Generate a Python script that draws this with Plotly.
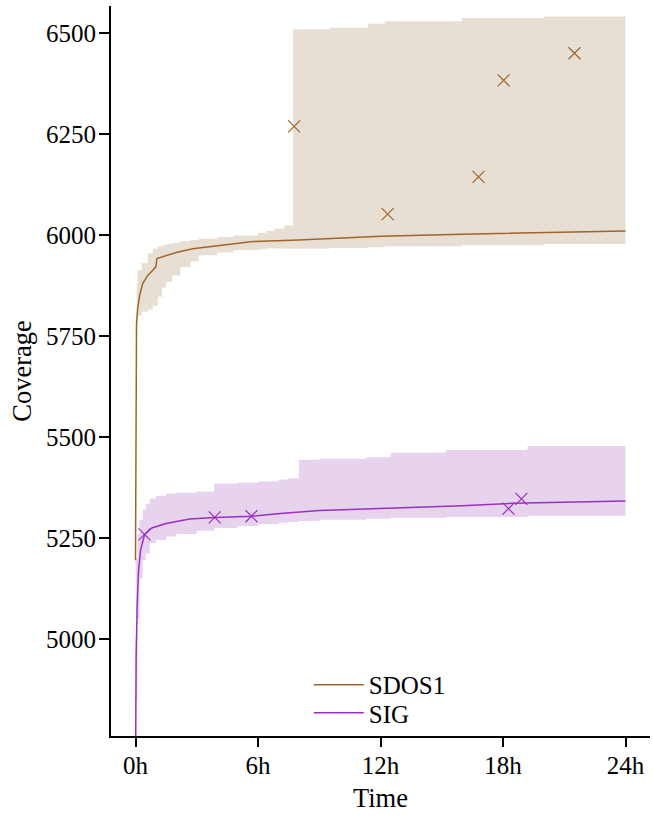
import plotly.graph_objects as go

# ---- data (hours, coverage) ----
sdos_t = [0, 0.02, 0.05, 0.1, 0.2, 0.35, 0.6, 0.85, 1.0, 1.05, 1.5, 2.0, 2.8, 4.0, 5.75, 8, 9.5, 12, 16, 20, 24]
sdos_v = [5195, 5700, 5780, 5815, 5850, 5880, 5900, 5913, 5922, 5942, 5950, 5957, 5966, 5974, 5984, 5988, 5991, 5997, 6002, 6006, 6010]

sdos_band_t = [0, 0.02, 0.06, 0.1, 0.3, 0.6, 0.85, 1.1, 1.3, 1.5, 1.8, 2.2, 2.7, 3.1, 4.0, 4.8, 6.0, 6.4, 6.8, 7.3, 7.72, 9.5, 11.4, 12.2, 16, 20, 24]
sdos_low = [5160, 5700, 5780, 5800, 5810, 5815, 5825, 5847, 5870, 5884, 5900, 5921, 5935, 5950, 5957, 5963, 5965, 5967, 5967, 5966, 5966, 5968, 5970, 5972, 5975, 5978, 5980]
sdos_up = [5200, 5800, 5880, 5913, 5930, 5955, 5966, 5972, 5975, 5978, 5981, 5985, 5988, 5991, 5995, 5999, 6006, 6010, 6016, 6024, 6509, 6513, 6523, 6529, 6537, 6541, 6543]

sdos_mark_t = [7.77, 12.35, 16.8, 18.03, 21.5]
sdos_mark_v = [6269, 6052, 6144, 6383, 6450]

sig_t = [0, 0.03, 0.08, 0.15, 0.25, 0.44, 0.8, 1.5, 2.65, 3.9, 5.7, 7.1, 9, 11, 13.9, 16, 18.5, 21, 24]
sig_v = [4650, 4950, 5080, 5170, 5220, 5258, 5275, 5286, 5297, 5301, 5304, 5311, 5318, 5321, 5325, 5330, 5336, 5339, 5342]

sig_band_t = [0, 0.03, 0.1, 0.2, 0.35, 0.5, 0.7, 1.0, 1.5, 2.0, 3.0, 3.85, 5.0, 6.0, 7.0, 7.5, 8.0, 9.0, 11.3, 12.5, 15.2, 19.2, 24]
sig_low = [4650, 4850, 5050, 5150, 5195, 5212, 5238, 5245, 5254, 5260, 5268, 5275, 5280, 5284, 5288, 5290, 5292, 5295, 5298, 5300, 5302, 5305, 5307]
sig_up = [5000, 5200, 5260, 5295, 5320, 5335, 5348, 5355, 5360, 5362, 5365, 5385, 5387, 5390, 5395, 5398, 5444, 5446, 5450, 5461, 5468, 5478, 5478]

sig_mark_t = [0.44, 3.88, 5.68, 18.27, 18.9]
sig_mark_v = [5259, 5301, 5304, 5323, 5347]

x_ticks = [0, 6, 12, 18, 24]
x_labels = ["0h", "6h", "12h", "18h", "24h"]
y_ticks = [5000, 5250, 5500, 5750, 6000, 6250, 6500]

BROWN = "#a0642a"
BROWN_FILL = "#e8dfd4"
PURPLE = "#9b2fc4"
PURPLE_FILL = "#e8d3ef"
FONT = "'Liberation Serif', 'DejaVu Serif', serif"

fig = go.Figure()

def band(t, lo, up, fill):
    fig.add_trace(go.Scatter(x=t, y=lo, mode="lines", line=dict(width=0, shape="hv"),
                             showlegend=False, hoverinfo="skip"))
    fig.add_trace(go.Scatter(x=t, y=up, mode="lines", line=dict(width=0, shape="hv"),
                             fill="tonexty", fillcolor=fill, showlegend=False, hoverinfo="skip"))

band(sdos_band_t, sdos_low, sdos_up, BROWN_FILL)
band(sig_band_t, sig_low, sig_up, PURPLE_FILL)

fig.add_trace(go.Scatter(x=sdos_t, y=sdos_v, mode="lines", name="SDOS1", legend="legend",
                         line=dict(color=BROWN, width=1.5)))
fig.add_trace(go.Scatter(x=sig_t, y=sig_v, mode="lines", name="SIG", legend="legend2",
                         line=dict(color=PURPLE, width=1.5)))

fig.add_trace(go.Scatter(x=sdos_mark_t, y=sdos_mark_v, mode="markers", showlegend=False,
                         marker=dict(symbol="x-thin", size=12, line=dict(color=BROWN, width=1.2))))
fig.add_trace(go.Scatter(x=sig_mark_t, y=sig_mark_v, mode="markers", showlegend=False,
                         marker=dict(symbol="x-thin", size=12, line=dict(color=PURPLE, width=1.2))))

leg_common = dict(xanchor="left", yanchor="middle", bgcolor="rgba(0,0,0,0)",
                  font=dict(size=25), itemwidth=50)

fig.update_layout(
    width=653, height=825,
    margin=dict(l=111, r=3, t=6, b=89),
    plot_bgcolor="white", paper_bgcolor="white",
    font=dict(family=FONT, size=25, color="black"),
    legend=dict(x=0.367, y=0.07, **leg_common),
    legend2=dict(x=0.367, y=0.0315, **leg_common),
    xaxis=dict(range=[-1.2, 25.2], tickvals=x_ticks, ticktext=x_labels, automargin=False,
               showgrid=False, zeroline=False, showline=True, linecolor="black", linewidth=2,
               ticks="outside", ticklen=9, tickwidth=2, tickcolor="black", ticklabelstandoff=-3,
               title=dict(text="Time", standoff=10, font=dict(size=26.5))),
    yaxis=dict(range=[4760, 6567], tickvals=y_ticks, automargin=False,
               showgrid=False, zeroline=False, showline=True, linecolor="black", linewidth=2,
               ticks="outside", ticklen=10, tickwidth=2, tickcolor="black", ticklabelstandoff=-2,
               title=dict(text="Coverage", standoff=7, font=dict(size=26.5))),
)

fig.write_html("out.html", config={"displayModeBar": False},
               post_script="document.body.style.margin='0';")
